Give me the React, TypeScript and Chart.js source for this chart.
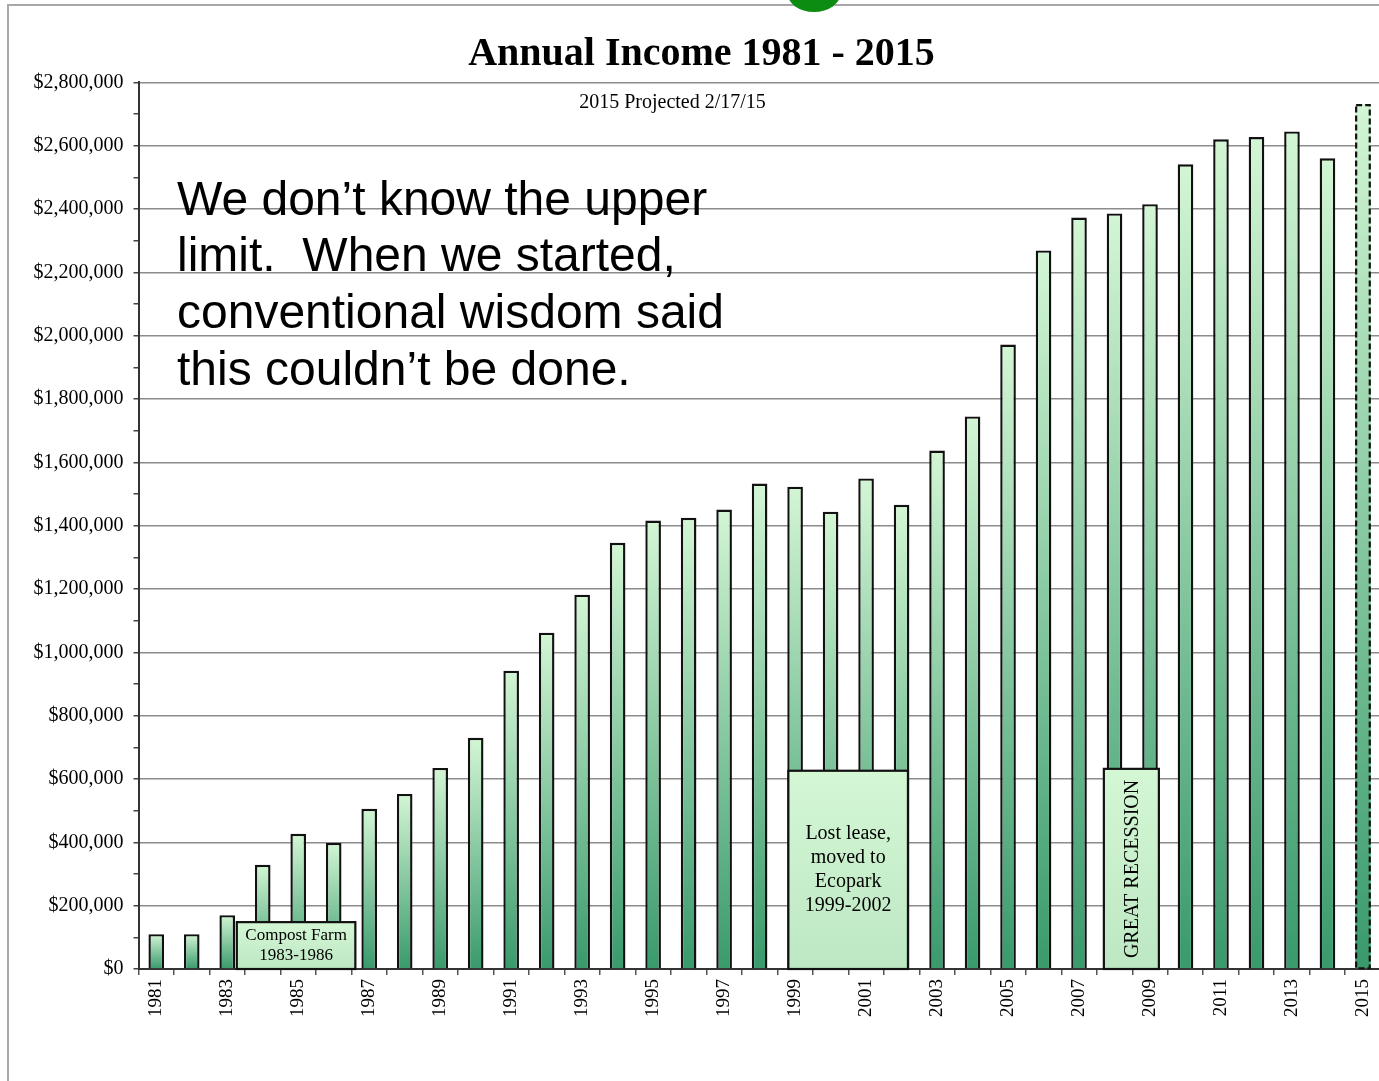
import { useEffect, useRef } from 'react';
import { Chart, registerables } from 'chart.js';

Chart.register(...registerables);

const years = [
  '1981', '1982', '1983', '1984', '1985', '1986', '1987', '1988', '1989', '1990',
  '1991', '1992', '1993', '1994', '1995', '1996', '1997', '1998', '1999', '2000',
  '2001', '2002', '2003', '2004', '2005', '2006', '2007', '2008', '2009', '2010',
  '2011', '2012', '2013', '2014', '2015',
];

const income = [
  110000, 110000, 170000, 329000, 427000, 398000, 506000, 553000, 635000, 730000,
  942000, 1062000, 1182000, 1346000, 1416000, 1425000, 1451000, 1533000, 1523000, 1444000,
  1549000, 1466000, 1637000, 1745000, 1972000, 2269000, 2373000, 2386000, 2415000, 2541000,
  2620000, 2627000, 2645000, 2560000, 2731000,
];

const projectedYear = '2015';

const chartTitle = 'Annual Income 1981 - 2015';
const subTitle = '2015 Projected 2/17/15';
const quoteLines = [
  'We don’t know the upper',
  'limit.  When we started,',
  'conventional wisdom said',
  'this couldn’t be done.',
];

const yMax = 2800000;
const yStep = 100000;
const yLabelStep = 200000;

// annotation boxes: category-index range and top value
const noteFrom = [2.27, 17.81, 26.7];
const noteTo = [5.61, 21.18, 28.25];
const noteTop = [148000, 626000, 632000];
const noteLines = [
  ['Compost Farm', '1983-1986'],
  ['Lost lease,', 'moved to', 'Ecopark', '1999-2002'],
  ['GREAT RECESSION'],
];
const noteVertical = [false, false, true];

const SERIF = '"Liberation Serif", "Times New Roman", serif';
const SANS = '"Liberation Sans", Arial, sans-serif';

export default function App() {
  const ref = useRef<HTMLCanvasElement>(null);

  useEffect(() => {
    const canvas = ref.current!;

    const decorPlugin = {
      id: 'decor',
      beforeDraw(chart: any) {
        const ctx = chart.ctx;
        ctx.save();
        ctx.fillStyle = '#ffffff';
        ctx.fillRect(0, 0, chart.width, chart.height);
        ctx.strokeStyle = '#a8a8a8';
        ctx.lineWidth = 2;
        ctx.beginPath();
        ctx.moveTo(8, chart.height + 10);
        ctx.lineTo(8, 5);
        ctx.lineTo(chart.width + 10, 5);
        ctx.stroke();
        ctx.fillStyle = '#0c8c10';
        ctx.beginPath();
        ctx.ellipse(814, -8, 27, 20, 0, 0, Math.PI * 2);
        ctx.fill();
        ctx.restore();
      },
      afterDatasetsDraw(chart: any) {
        const ctx = chart.ctx;
        const xs = chart.scales.x;
        const ys = chart.scales.y;
        const meta = chart.getDatasetMeta(0);
        // dashed outline for projected year
        const pi = years.indexOf(projectedYear);
        const el = meta.data[pi];
        if (el) {
          const p = el.getProps(['x', 'y', 'base', 'width'], true);
          ctx.save();
          ctx.strokeStyle = '#111';
          ctx.lineWidth = 2.2;
          ctx.setLineDash([6, 3]);
          ctx.strokeRect(p.x - p.width / 2 + 1, p.y + 1, p.width - 2, p.base - p.y - 1);
          ctx.restore();
        }
        // annotation boxes
        for (let i = 0; i < noteFrom.length; i++) {
          const l = xs.getPixelForValue(noteFrom[i]);
          const r = xs.getPixelForValue(noteTo[i]);
          const t = ys.getPixelForValue(noteTop[i]);
          const b = ys.getPixelForValue(0);
          ctx.save();
          const g = ctx.createLinearGradient(0, t, 0, b);
          g.addColorStop(0, '#d4f7d4');
          g.addColorStop(1, '#bde7c3');
          ctx.fillStyle = g;
          ctx.fillRect(l, t, r - l, b - t);
          ctx.strokeStyle = '#111';
          ctx.lineWidth = 2.2;
          ctx.strokeRect(l, t, r - l, b - t);
          ctx.fillStyle = '#000';
          ctx.textAlign = 'center';
          ctx.textBaseline = 'middle';
          const cx = (l + r) / 2;
          const cy = (t + b) / 2;
          if (noteVertical[i]) {
            ctx.font = `20px ${SERIF}`;
            ctx.translate(cx + 1, cy);
            ctx.rotate(-Math.PI / 2);
            ctx.fillText(noteLines[i][0], 0, 0);
          } else {
            const lines = noteLines[i];
            const size = lines.length > 2 ? 20 : 17;
            const lh = lines.length > 2 ? 24.2 : 19.5;
            ctx.font = `${size}px ${SERIF}`;
            lines.forEach((s, k) => {
              ctx.fillText(s, cx, cy + (k - (lines.length - 1) / 2) * lh);
            });
          }
          ctx.restore();
        }
      },
      afterDraw(chart: any) {
        const ctx = chart.ctx;
        ctx.save();
        ctx.fillStyle = '#000';
        ctx.textAlign = 'center';
        ctx.textBaseline = 'alphabetic';
        ctx.font = `bold 40px ${SERIF}`;
        ctx.fillText(chartTitle, 701.5, 65);
        ctx.font = `20px ${SERIF}`;
        ctx.fillText(subTitle, 672.5, 107.5);
        ctx.textAlign = 'left';
        ctx.font = `48px ${SANS}`;
        const base = [215, 271, 328, 385];
        quoteLines.forEach((s, k) => ctx.fillText(s, 177, base[k]));
        ctx.restore();
      },
    };

    const barFill = (c: any) => {
      const chart = c.chart;
      const ys = chart.scales && chart.scales.y;
      if (!ys || !chart.chartArea || typeof c.raw !== 'number') return '#8fd0a8';
      const top = ys.getPixelForValue(c.raw);
      const bottom = ys.getPixelForValue(0);
      if (!isFinite(top) || !isFinite(bottom) || bottom - top < 1) return '#8fd0a8';
      const g = chart.ctx.createLinearGradient(0, top, 0, bottom);
      g.addColorStop(0, '#d3f6d4');
      g.addColorStop(1, '#399a6c');
      return g;
    };

    const chart = new Chart(canvas, {
      type: 'bar',
      data: {
        labels: years,
        datasets: [
          {
            data: income,
            backgroundColor: barFill as any,
            borderColor: '#111111',
            borderWidth: years.map((y) => (y === projectedYear ? 0 : 2.4)),
            barPercentage: 0.44,
            categoryPercentage: 1,
          },
        ],
      },
      options: {
        responsive: false,
        animation: false,
        devicePixelRatio: 1,
        layout: { padding: { top: 82.3, left: 0, right: 19.3, bottom: 0 } },
        plugins: {
          legend: { display: false },
          title: { display: false },
          tooltip: { enabled: false },
        },
        scales: {
          x: {
            type: 'category',
            afterFit: (s: any) => {
              s.height = 112;
            },
            grid: {
              offset: true,
              drawOnChartArea: false,
              drawTicks: true,
              tickLength: 6,
              color: '#555555',
              lineWidth: 1.5,
            },
            border: { display: true, color: '#333333', width: 2 },
            ticks: {
              autoSkip: false,
              minRotation: 90,
              maxRotation: 90,
              padding: 4,
              color: '#000',
              font: { family: SERIF, size: 19 },
              callback: (_v: any, i: number) => (i % 2 === 0 ? years[i] : ''),
            },
          },
          y: {
            min: 0,
            max: yMax,
            afterFit: (s: any) => {
              s.width = 138.5;
            },
            grid: {
              color: (c: any) =>
                c.tick && c.tick.value % yLabelStep === 0 ? '#8c8c8c' : 'rgba(0,0,0,0)',
              tickColor: '#444444',
              tickLength: 5,
              lineWidth: 1.5,
            },
            border: { display: true, color: '#333333', width: 2 },
            ticks: {
              stepSize: yStep,
              padding: 10,
              color: '#000',
              font: { family: SERIF, size: 20 },
              callback: (v: any) =>
                Number(v) % yLabelStep === 0 ? '$' + Number(v).toLocaleString('en-US') : '',
            },
          },
        },
      },
      plugins: [decorPlugin],
    });

    return () => chart.destroy();
  }, []);

  return (
    <div
      style={{
        position: 'fixed',
        left: 0,
        top: 0,
        width: 1379,
        height: 1081,
        overflow: 'hidden',
        background: '#ffffff',
      }}
    >
      <canvas ref={ref} width={1400} height={1081} style={{ display: 'block', width: 1400, height: 1081 }} />
    </div>
  );
}
